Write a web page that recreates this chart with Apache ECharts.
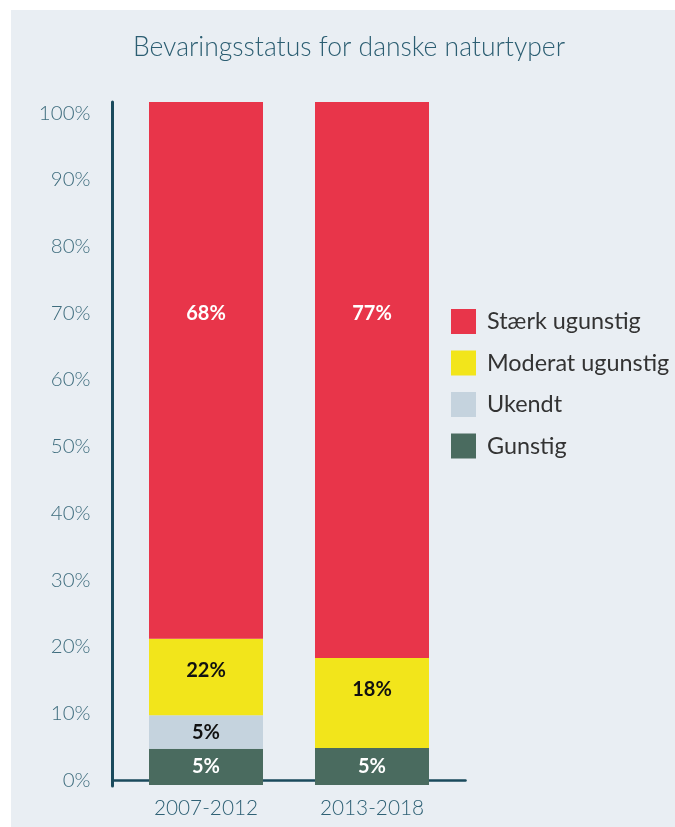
<!DOCTYPE html>
<html>
<head>
<meta charset="utf-8">
<script src="https://cdn.jsdelivr.net/npm/echarts@6/dist/echarts.min.js"></script>
<style>
  html, body { margin: 0; padding: 0; background: #ffffff; width: 675px; height: 827px; overflow: hidden; }
  #chart { position: absolute; left: 11px; top: 10px; width: 664px; height: 817px; background: #e9eef3; }
</style>
</head>
<body>
<div id="chart"></div>
<script>
// Categories (periods)
const periods = ['2007-2012', '2013-2018'];
// Series names (stack order bottom -> top)
const seriesNames = ['Gunstig', 'Ukendt', 'Moderat ugunstig', 'Stærk ugunstig'];
// Bar segment heights as drawn (share of bar, %)
const gunstig = [5.3, 5.4];
const ukendt = [4.9, 0];
const moderat = [11.2, 13.2];
const staerk = [78.6, 81.4];
// Printed value labels (%)
const gunstigLabel = [5, 5];
const ukendtLabel = [5, null];
const moderatLabel = [22, 18];
const staerkLabel = [68, 77];
// Y tick labels
const yTicks = [0, 10, 20, 30, 40, 50, 60, 70, 80, 90, 100];

const colors = {
  'Gunstig': '#4a6b5f',
  'Ukendt': '#c5d3de',
  'Moderat ugunstig': '#f2e51b',
  'Stærk ugunstig': '#e8354a'
};
const labelColors = {
  'Gunstig': '#ffffff',
  'Ukendt': '#111111',
  'Moderat ugunstig': '#111111',
  'Stærk ugunstig': '#ffffff'
};
const labelPos = {
  'Gunstig': 'inside',
  'Ukendt': 'inside',
  'Moderat ugunstig': ['50%', 32],
  'Stærk ugunstig': ['50%', 211.5]
};
const values = [gunstig, ukendt, moderat, staerk];
const labels = [gunstigLabel, ukendtLabel, moderatLabel, staerkLabel];

const chart = echarts.init(document.getElementById('chart'), null, { renderer: 'canvas' });

const series = seriesNames.map((name, si) => ({
  name: name,
  type: 'bar',
  stack: 'total',
  xAxisIndex: 0,
  yAxisIndex: 0,
  barWidth: 114,
  itemStyle: { color: colors[name] },
  label: {
    show: true,
    position: labelPos[name],
    align: 'center',
    verticalAlign: 'middle',
    fontFamily: 'Lato',
    fontWeight: 'bold',
    fontSize: 20,
    color: labelColors[name],
    formatter: (p) => {
      const v = labels[si][p.dataIndex];
      return (v === null || v === undefined) ? '' : v + '%';
    }
  },
  data: values[si].map(v => v),
  animation: false
}));

const option = {
  animation: false,
  textStyle: { fontFamily: 'Lato' },
  title: {
    text: 'Bevaringsstatus for danske naturtyper',
    left: 333,
    top: 19,
    textAlign: 'center',
    textStyle: { fontFamily: 'Lato', fontWeight: 300, fontSize: 26.5, color: '#2c5e72' }
  },
  legend: {
    orient: 'vertical',
    left: 435,
    top: 294,
    itemWidth: 25,
    itemHeight: 25,
    itemGap: 16.5,
    icon: 'rect',
    data: ['Stærk ugunstig', 'Moderat ugunstig', 'Ukendt', 'Gunstig'],
    textStyle: { fontFamily: 'Lato', fontSize: 23.4, color: '#333333', padding: [0, 0, 0, 6] }
  },
  grid: [
    { left: 112, top: 92, width: 332, height: 683 },
    { left: 101.5, top: 92, width: 353, height: 684 }
  ],
  xAxis: [
    {
      type: 'category', gridIndex: 0, data: periods,
      axisLine: { show: false }, axisTick: { show: false },
      axisLabel: { margin: 13, fontFamily: 'Lato', fontWeight: 300, fontSize: 20.8, color: '#2f6175' }
    },
    {
      type: 'value', gridIndex: 1, min: 0, max: 1,
      axisLine: { show: true, lineStyle: { color: '#1a4a5c', width: 2.5 } },
      axisTick: { show: false }, axisLabel: { show: false }, splitLine: { show: false }
    }
  ],
  yAxis: [
    {
      type: 'value', gridIndex: 0, min: 0, max: 100, show: false
    },
    {
      type: 'value', gridIndex: 1, min: -0.9, max: 101.65,
      axisLine: { show: true, lineStyle: { color: '#1a4a5c', width: 3 } },
      axisTick: { show: false },
      splitLine: { show: false },
      axisLabel: {
        customValues: yTicks,
        margin: 22,
        fontFamily: 'Lato', fontWeight: 300, fontSize: 20.5, color: '#3f6d7e',
        formatter: '{value}%'
      }
    }
  ],
  series: series
};
chart.setOption(option);
</script>
</body>
</html>
